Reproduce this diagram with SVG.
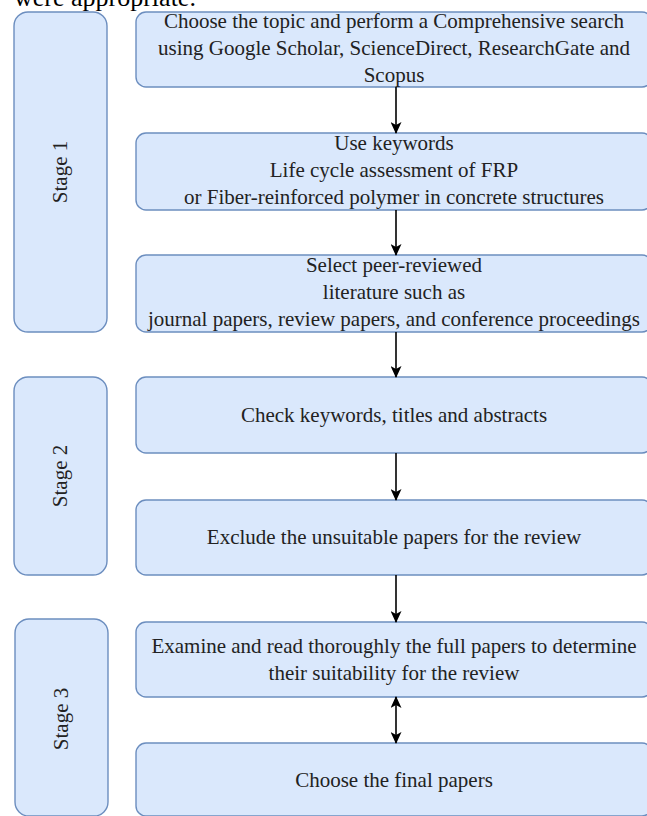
<svg xmlns="http://www.w3.org/2000/svg" width="647" height="816" viewBox="0 0 647 816">
<style>
.box{fill:#dae8fc;stroke:#6c8ebf;stroke-width:1.4}
.t{font-family:"Liberation Serif","Times New Roman",serif;font-size:21px;fill:#222;text-anchor:middle}
.lbl{font-family:"Liberation Serif","Times New Roman",serif;font-size:21px;fill:#222;text-anchor:middle}
.body{font-family:"Liberation Serif","Times New Roman",serif;font-size:26px;fill:#000}
.c{stroke:#000;stroke-width:1.6;fill:none}
</style>
<defs>
<marker id="ah" viewBox="0 0 12 11" refX="11" refY="5.5" markerWidth="12" markerHeight="11" markerUnits="userSpaceOnUse" orient="auto-start-reverse">
<path d="M0,0 L12,5.5 L0,11 L3,5.5 Z" fill="#000"/>
</marker>
</defs>
<rect width="647" height="816" fill="#fff"/>
<text class="body" x="14" y="6">were appropriate.</text>

<g id="stage1"><rect class="box" x="14" y="12" width="93" height="320" rx="14"/><text class="lbl" transform="translate(67,172) rotate(-90)">Stage 1</text></g>
<g id="stage2"><rect class="box" x="14" y="377" width="93" height="198" rx="14"/><text class="lbl" transform="translate(67,476) rotate(-90)">Stage 2</text></g>
<g id="stage3"><rect class="box" x="15" y="619" width="93" height="197" rx="14"/><text class="lbl" transform="translate(68,719) rotate(-90)">Stage 3</text></g>

<g id="n1"><rect class="box" x="136" y="12" width="516" height="75" rx="10"/>
<text class="t" x="394" y="28">Choose the topic and perform a Comprehensive search</text>
<text class="t" x="394" y="55">using Google Scholar, ScienceDirect, ResearchGate and</text>
<text class="t" x="394" y="82">Scopus</text></g>
<g id="n2"><rect class="box" x="136" y="133" width="516" height="77" rx="10"/>
<text class="t" x="394" y="150">Use keywords</text>
<text class="t" x="394" y="177">Life cycle assessment of FRP</text>
<text class="t" x="394" y="204">or Fiber-reinforced polymer in concrete structures</text></g>
<g id="n3"><rect class="box" x="136" y="255" width="516" height="77" rx="10"/>
<text class="t" x="394" y="272">Select peer-reviewed</text>
<text class="t" x="394" y="299">literature such as</text>
<text class="t" x="394" y="326">journal papers, review papers, and conference proceedings</text></g>
<g id="n4"><rect class="box" x="136" y="377" width="516" height="76" rx="10"/>
<text class="t" x="394" y="422">Check keywords, titles and abstracts</text></g>
<g id="n5"><rect class="box" x="136" y="500" width="516" height="75" rx="10"/>
<text class="t" x="394" y="544">Exclude the unsuitable papers for the review</text></g>
<g id="n6"><rect class="box" x="136" y="622" width="516" height="75" rx="10"/>
<text class="t" x="394" y="653">Examine and read thoroughly the full papers to determine</text>
<text class="t" x="394" y="680">their suitability for the review</text></g>
<g id="n7"><rect class="box" x="136" y="743" width="516" height="73" rx="10"/>
<text class="t" x="394" y="787">Choose the final papers</text></g>

<g id="connectors">
<line class="c" x1="396" y1="87" x2="396" y2="133" marker-end="url(#ah)"/>
<line class="c" x1="396" y1="210" x2="396" y2="255" marker-end="url(#ah)"/>
<line class="c" x1="396" y1="332" x2="396" y2="377" marker-end="url(#ah)"/>
<line class="c" x1="396" y1="453" x2="396" y2="500" marker-end="url(#ah)"/>
<line class="c" x1="396" y1="575" x2="396" y2="622" marker-end="url(#ah)"/>
<line class="c" x1="396" y1="697" x2="396" y2="743" marker-start="url(#ah)" marker-end="url(#ah)"/>
</g>
</svg>
